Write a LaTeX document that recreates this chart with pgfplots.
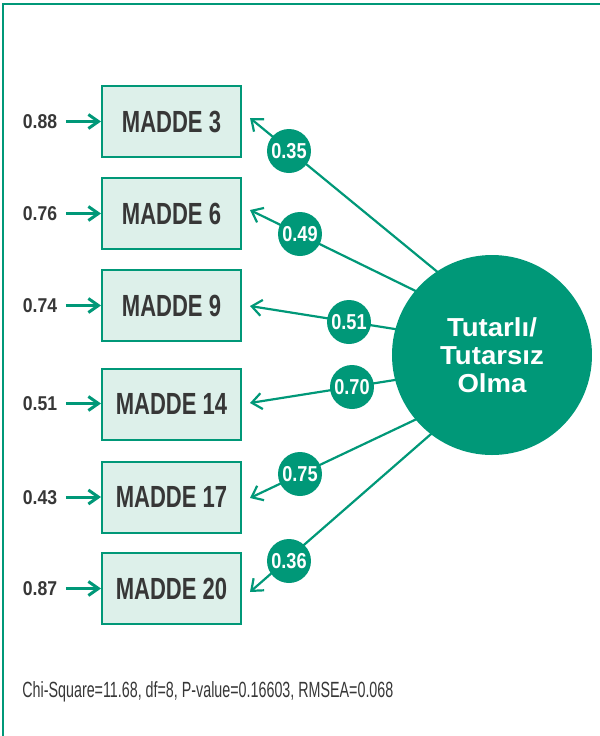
\documentclass[border=0pt]{standalone}
\usepackage{fontspec}
\setmainfont{Liberation Sans}
\newfontfamily\condb{Liberation Sans}[FakeStretch=0.72]
\newfontfamily\condn{Liberation Sans}[FakeStretch=0.84]
\newfontfamily\condv{Liberation Sans}[FakeStretch=0.88]
\newfontfamily\condl{Liberation Sans}[FakeStretch=0.65]
\newfontfamily\widef{Liberation Sans}[FakeStretch=1.06]
\usepackage{pgfplots}
\pgfplotsset{compat=1.18}
\usetikzlibrary{arrows.meta}
\definecolor{teal}{RGB}{0,152,120}
\definecolor{mint}{RGB}{221,240,234}
\definecolor{dark}{RGB}{55,55,55}
\begin{document}
\begin{tikzpicture}
\begin{axis}[
  width=300pt, height=368pt, scale only axis,
  xmin=0, xmax=600, ymin=0, ymax=736, y dir=reverse,
  hide axis, clip=false,
]
% frame
\addplot[teal, line width=1.1pt, mark=none] coordinates {(3,736) (3,4) (600,4)};
% loading paths
\pgfplotsset{ld/.style={teal, line width=1.1pt, mark=none, -{Straight Barb[length=5pt,width=8pt,line width=1.1pt]}}}
\addplot[ld] coordinates {(440,274) (250,118)};
\addplot[ld] coordinates {(430,298) (250,210)};
\addplot[ld] coordinates {(420,333) (250,306)};
\addplot[ld] coordinates {(420,376) (250,403)};
\addplot[ld] coordinates {(440,408) (250,498)};
\addplot[ld] coordinates {(470,400) (250,592)};
% error arrows
\pgfplotsset{er/.style={teal, line width=1.5pt, mark=none, -{Straight Barb[length=5pt,width=7pt,line width=1.5pt]}}}
\addplot[er] coordinates {(66,121.5) (101,121.5)};
\addplot[er] coordinates {(66,213.5) (101,213.5)};
\addplot[er] coordinates {(66,305.5) (101,305.5)};
\addplot[er] coordinates {(66,403.5) (101,403.5)};
\addplot[er] coordinates {(66,497) (101,497)};
\addplot[er] coordinates {(66,588.5) (101,588.5)};
% error values
\addplot[draw=none, mark=none, nodes near coords, point meta=explicit symbolic,
  every node near coord/.style={anchor=center, inner sep=0pt, text=dark, font=\condv\bfseries\fontsize{10pt}{11pt}\selectfont}]
  table[meta=label, col sep=comma] {
x,y,label
40,122,0.88
40,214,0.76
40,306,0.74
40,404,0.51
40,497.5,0.43
40,589,0.87
};
% boxes
\addplot[draw=none, mark=none, nodes near coords, point meta=explicit symbolic,
  every node near coord/.style={anchor=center, draw=teal, line width=1pt, fill=mint, minimum width=69.5pt, minimum height=35.5pt, inner sep=0pt, text=dark, font=\condb\bfseries\fontsize{15.3pt}{16pt}\selectfont}]
  table[meta=label, col sep=comma] {
x,y,label
171.5,121.5,MADDE 3
171.5,213.5,MADDE 6
171.5,305.5,MADDE 9
171.5,404,MADDE 14
171.5,497,MADDE 17
171.5,588.5,MADDE 20
};
% latent factor
\addplot[draw=none, mark=none, nodes near coords={Tutarlı/\\Tutarsız\\Olma},
  every node near coord/.style={anchor=center, circle, fill=teal, minimum size=100pt, inner sep=0pt, align=center, text=white, font=\widef\bfseries\fontsize{13pt}{14pt}\selectfont}]
  coordinates {(492,355)};
% loadings
\addplot[draw=none, mark=none, nodes near coords, point meta=explicit symbolic,
  every node near coord/.style={anchor=center, circle, fill=teal, minimum size=22pt, inner sep=0pt, text=white, font=\condn\bfseries\fontsize{10.8pt}{12pt}\selectfont}]
  table[meta=label, col sep=comma] {
x,y,label
289,151,0.35
300,234,0.49
349,322,0.51
352,387,0.70
300,474,0.75
289,561,0.36
};
\node[anchor=west, inner sep=0pt, text=dark, font=\condl\fontsize{11pt}{12pt}\selectfont] at (axis cs:22,692) {Chi-Square=11.68, df=8, P-value=0.16603, RMSEA=0.068};
\end{axis}
\pgfresetboundingbox
\path[use as bounding box] (current axis.south west) rectangle (current axis.north east);
\end{tikzpicture}
\end{document}
